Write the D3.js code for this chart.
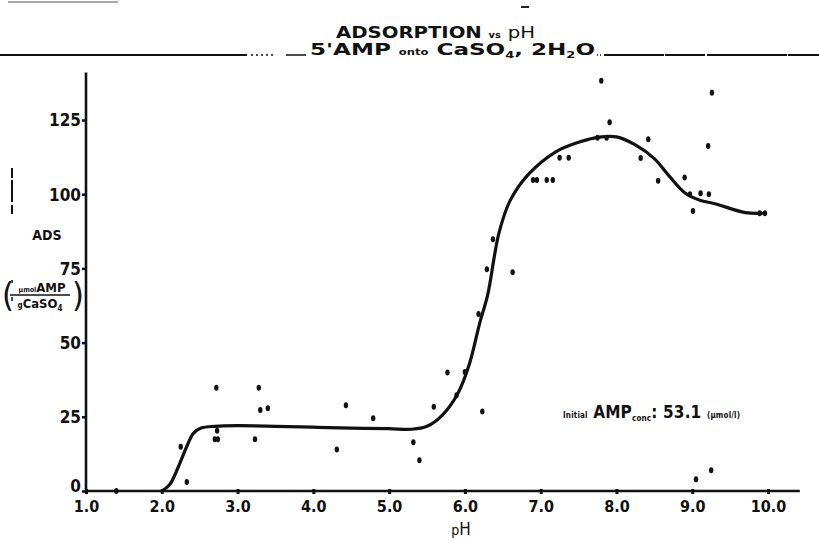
<!DOCTYPE html>
<html>
<head>
<meta charset="utf-8">
<script src="https://cdn.jsdelivr.net/npm/d3@7"></script>
<style>
  body { margin: 0; background: #fff; }
  svg { display: block; }
  text { font-family: "Liberation Sans Narrow", "DejaVu Sans Condensed", sans-serif; font-weight: bold; fill: #111; }
</style>
</head>
<body>
<svg id="chart" width="819" height="540"></svg>
<script>
// measured points (pH, adsorption)
const ptsPH  = [1.4, 2.25, 2.33, 2.70, 2.74, 2.73, 2.72, 3.23, 3.28, 3.30, 3.40, 4.31, 4.43, 4.79,
                5.32, 5.40, 5.59, 5.77, 5.89, 6.00, 6.18, 6.23, 6.29, 6.37, 6.63, 6.90, 6.95, 7.08,
                7.16, 7.25, 7.37, 7.75, 7.87, 7.80, 7.91, 8.32, 8.42, 8.55, 8.90, 8.97, 9.01, 9.05,
                9.11, 9.21, 9.22, 9.25, 9.26, 9.89, 9.96];
const ptsADS = [0, 14.9, 3, 17.4, 17.4, 20.3, 34.8, 17.4, 34.8, 27.3, 27.9, 14.0, 28.9, 24.5,
                16.4, 10.4, 28.4, 39.9, 32.3, 40.1, 59.6, 26.8, 74.7, 84.8, 73.7, 104.8, 104.8, 104.8,
                104.8, 112.3, 112.3, 119, 119, 138.2, 124.2, 112.2, 118.5, 104.5, 105.6, 100, 94.3, 4,
                100.3, 116.2, 100, 7, 134.2, 93.6, 93.6];

// hand drawn fitted curve
const curvePH  = [2.0, 2.1, 2.2, 2.33, 2.42, 2.52, 2.7, 3.0, 3.5, 4.0, 4.5, 5.0, 5.3, 5.5, 5.7, 5.9,
                  6.05, 6.2, 6.3, 6.45, 6.6, 6.85, 7.2, 7.5, 7.8, 8.0, 8.25, 8.5, 8.7, 8.9, 9.1, 9.3, 9.7, 9.96];
const curveADS = [0, 2, 7, 15, 19.5, 21.2, 21.8, 22, 21.8, 21.5, 21.2, 21, 20.8, 21.8, 25.5, 32.5,
                  42, 57, 66, 87, 98, 107, 114.3, 117.5, 119.3, 119.3, 116.6, 112, 106, 100.5, 98, 96.8, 93.8, 93.6];

const xTicks = [1, 2, 3, 4, 5, 6, 7, 8, 9, 10];
const yTicks = [0, 25, 50, 75, 100, 125];

const svg = d3.select('#chart');

const x = d3.scaleLinear().domain([1, 10]).range([86, 768]);
const y = d3.scaleLinear().domain([0, 125]).range([491, 120]);

// axes
const xAxis = d3.axisBottom(x).tickValues(xTicks).tickSize(3)
    .tickFormat(d => d.toFixed(1));
const gx = svg.append('g').attr('transform', `translate(0,${y(0)})`).call(xAxis);
gx.select('.domain').remove();
gx.selectAll('line').attr('stroke', '#111').attr('stroke-width', 3).attr('y1', -2);
gx.selectAll('text').attr('dy', '0.95em').style('font-size', '16px');

svg.append('line')
    .attr('x1', x(1)).attr('x2', x(10.42))
    .attr('y1', y(0)).attr('y2', y(0))
    .attr('stroke', '#111').attr('stroke-width', 2.6);

const yAxis = d3.axisLeft(y).tickValues(yTicks).tickSize(4);
const gy = svg.append('g').attr('transform', `translate(${x(1)},0)`).call(yAxis);
gy.select('.domain').remove();
gy.selectAll('line').attr('stroke', '#111').attr('stroke-width', 2.5);
gy.selectAll('text').attr('x', -5).attr('dy', '0.35em').style('font-size', '17px');
// the zero sits a little higher so it clears the 1.0 below it
gy.selectAll('text').filter(d => d === 0).attr('dy', '0.05em');

svg.append('line')
    .attr('x1', x(1)).attr('x2', x(1))
    .attr('y1', y(0)).attr('y2', y(141))
    .attr('stroke', '#111').attr('stroke-width', 2.6);

// fitted curve
const line = d3.line()
    .x(d => x(d[0])).y(d => y(d[1]))
    .curve(d3.curveCatmullRom.alpha(0.5));
svg.append('path')
    .datum(curvePH.map((p, i) => [p, curveADS[i]]))
    .attr('d', line)
    .attr('fill', 'none')
    .attr('stroke', '#111')
    .attr('stroke-width', 3.2)
    .attr('stroke-linecap', 'round');

// data points
svg.append('g').selectAll('ellipse')
    .data(ptsPH.map((p, i) => [p, ptsADS[i]]))
    .join('ellipse')
    .attr('cx', d => x(d[0])).attr('cy', d => y(d[1]))
    .attr('rx', 2.2).attr('ry', 3)
    .attr('fill', '#111');

// axis titles
svg.append('text').attr('x', 461).attr('y', 535).attr('text-anchor', 'middle')
    .style('font-size', '17px').style('font-weight', 'normal')
    .html('<tspan style="font-size:14px">p</tspan>H');

svg.append('text').attr('x', 47).attr('y', 240).attr('text-anchor', 'middle')
    .style('font-size', '14px').text('ADS');

const frac = svg.append('g');
frac.append('text').attr('x', 2).attr('y', 307).style('font-size', '34px')
    .style('font-weight', 'normal').text('(');
frac.append('text').attr('x', 72).attr('y', 307).style('font-size', '34px')
    .style('font-weight', 'normal').text(')');
frac.append('text').attr('x', 42).attr('y', 292).attr('text-anchor', 'middle')
    .style('font-size', '13px')
    .html('<tspan style="font-size:7px">μmol</tspan>AMP');
frac.append('line').attr('x1', 10).attr('x2', 70).attr('y1', 295).attr('y2', 295)
    .attr('stroke', '#111').attr('stroke-width', 1.6);
frac.append('text').attr('x', 40).attr('y', 308).attr('text-anchor', 'middle')
    .style('font-size', '13px')
    .html('<tspan style="font-size:8px">g</tspan>CaSO<tspan dy="3" style="font-size:8px">4</tspan>');

svg.append('line').attr('x1', 12).attr('x2', 12).attr('y1', 168).attr('y2', 214)
    .attr('stroke', '#111').attr('stroke-width', 2).attr('stroke-dasharray', '10,2,22,3');
svg.append('line').attr('x1', 12).attr('x2', 12).attr('y1', 280).attr('y2', 312)
    .attr('stroke', '#111').attr('stroke-width', 1.5).attr('stroke-dasharray', '3,14,4,12');

// title
svg.append('text').attr('x', 336).attr('y', 38)
    .attr('textLength', 199).attr('lengthAdjust', 'spacingAndGlyphs')
    .style('font-size', '16px')
    .html('ADSORPTION <tspan style="font-size:8px">vs</tspan> <tspan style="font-weight:normal">pH</tspan>');
svg.append('text').attr('x', 310).attr('y', 55)
    .attr('textLength', 285).attr('lengthAdjust', 'spacingAndGlyphs')
    .style('font-size', '16px')
    .html("5'AMP <tspan style='font-size:8px'>onto</tspan> CaSO<tspan dy='3' style='font-size:9px'>4</tspan><tspan dy='-3'>, 2H</tspan><tspan dy='3' style='font-size:9px'>2</tspan><tspan dy='-3'>O</tspan>");

svg.append('line').attr('x1', 0).attr('x2', 247).attr('y1', 55).attr('y2', 55)
    .attr('stroke', '#111').attr('stroke-width', 2);
svg.append('line').attr('x1', 251).attr('x2', 273).attr('y1', 55).attr('y2', 55)
    .attr('stroke', '#111').attr('stroke-width', 1.5).attr('stroke-dasharray', '2,3');
svg.append('line').attr('x1', 286).attr('x2', 306).attr('y1', 55).attr('y2', 55)
    .attr('stroke', '#111').attr('stroke-width', 1.5);
svg.append('line').attr('x1', 597).attr('x2', 602).attr('y1', 55).attr('y2', 55)
    .attr('stroke', '#111').attr('stroke-width', 1.5).attr('stroke-dasharray', '1,2');
svg.append('line').attr('x1', 604).attr('x2', 819).attr('y1', 55).attr('y2', 55)
    .attr('stroke', '#111').attr('stroke-width', 2).attr('stroke-dasharray', '60,1,40,2,80,1');

// scan marks
svg.append('line').attr('x1', 8).attr('x2', 118).attr('y1', 2).attr('y2', 2)
    .attr('stroke', '#555').attr('stroke-width', 1.2);
svg.append('line').attr('x1', 521).attr('x2', 529).attr('y1', 7).attr('y2', 7)
    .attr('stroke', '#222').attr('stroke-width', 2);

// annotation
svg.append('text').attr('x', 563).attr('y', 418)
    .attr('textLength', 177).attr('lengthAdjust', 'spacing')
    .style('font-size', '17px')
    .html("<tspan style='font-size:8px'>Initial</tspan> AMP<tspan dy='3' style='font-size:8px'>conc</tspan><tspan dy='-3'>: 53.1 </tspan><tspan style='font-size:8px'>(μmol/l)</tspan>");
</script>
</body>
</html>
